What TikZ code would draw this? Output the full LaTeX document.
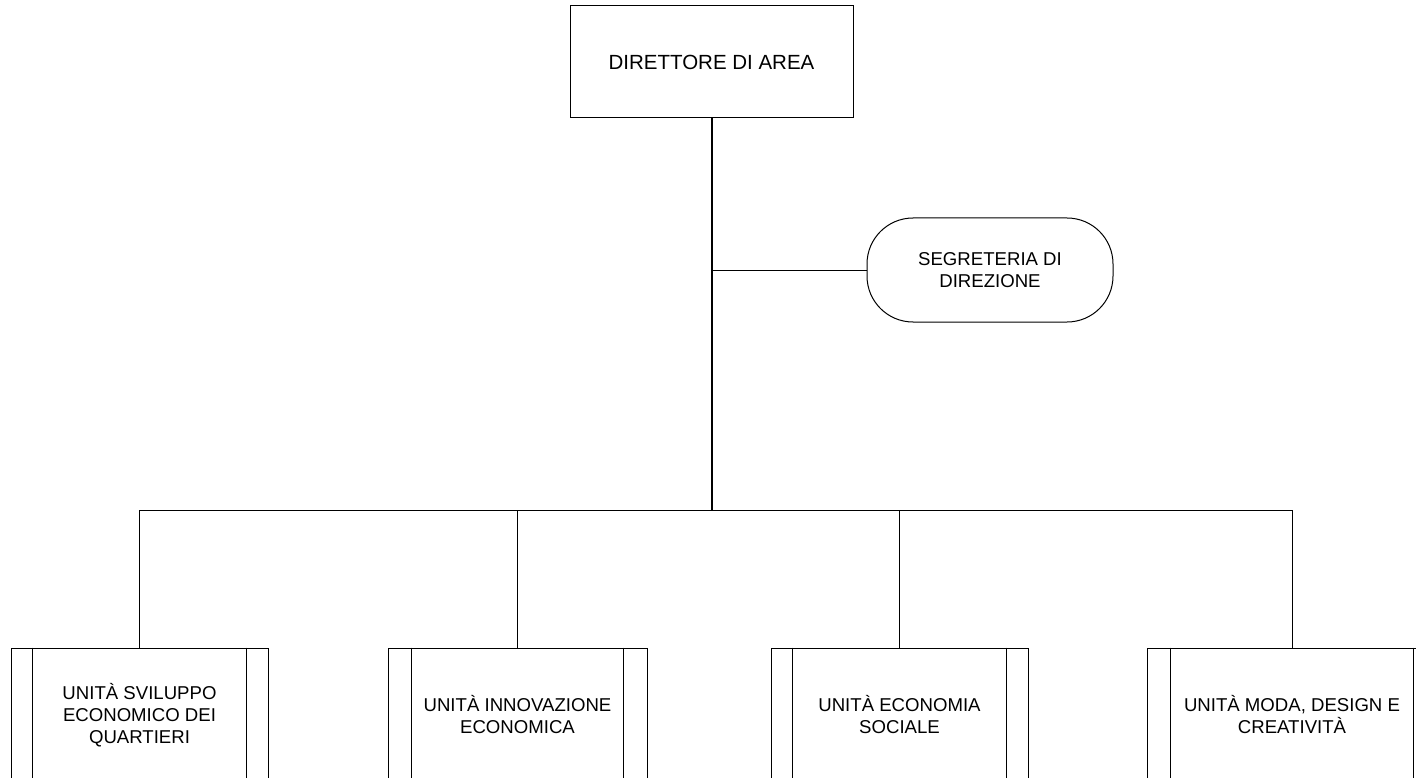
\documentclass[tikz,border=0pt]{standalone}
\usepackage{fontspec}
\setmainfont{Liberation Sans}
\begin{document}
\begin{tikzpicture}[x=1pt,y=-1pt,
  txt/.style={align=center,font=\fontsize{18.6}{22}\selectfont,inner sep=0pt},
  topbox/.style={draw,line width=1pt,minimum width=283pt,minimum height=112pt,align=center,font=\fontsize{20.5}{24}\selectfont,inner sep=0pt},
  segbox/.style={draw,line width=1pt,rounded corners=46pt,minimum width=246pt,minimum height=104pt,txt},
  unitbox/.style={draw,line width=1pt,minimum height=134pt,txt},
  conn/.style={line width=1pt},
  mainconn/.style={line width=2pt}]
\useasboundingbox (0,0) rectangle (1416,778);
\clip (0,0) rectangle (1416,778);
\fill[white] (0,0) rectangle (1416,778);
\node[topbox] (top) at (711.5,62) {DIRETTORE DI AREA};
\node[segbox] (seg) at (990,270) {SEGRETERIA DI\\DIREZIONE};
\node[unitbox,minimum width=257pt] (b1) at (139.5,715) {UNITÀ SVILUPPO\\ECONOMICO DEI\\QUARTIERI};
\node[unitbox,minimum width=259pt] (b2) at (517.5,715) {UNITÀ INNOVAZIONE\\ECONOMICA};
\node[unitbox,minimum width=257pt] (b3) at (899.5,715) {UNITÀ ECONOMIA\\SOCIALE};
\node[unitbox,minimum width=290pt] (b4) at (1292,715) {UNITÀ MODA, DESIGN E\\CREATIVITÀ};
\foreach \b/\o in {b1/22,b2/24,b3/22,b4/24}{
  \draw[conn] ([xshift=\o pt]\b.north west) -- ([xshift=\o pt]\b.south west);
  \draw[conn] ([xshift=-\o pt]\b.north east) -- ([xshift=-\o pt]\b.south east);
}
\coordinate (bus) at (711.5,510);
\draw[mainconn] (top.south) -- (bus);
\draw[conn] (seg.west -| top.south) -- (seg.west);
\draw[conn] (b1.north) -- (b1.north |- bus) -- (b4.north |- bus) -- (b4.north);
\draw[conn] (b2.north) -- (b2.north |- bus);
\draw[conn] (b3.north) -- (b3.north |- bus);
\end{tikzpicture}
\end{document}
